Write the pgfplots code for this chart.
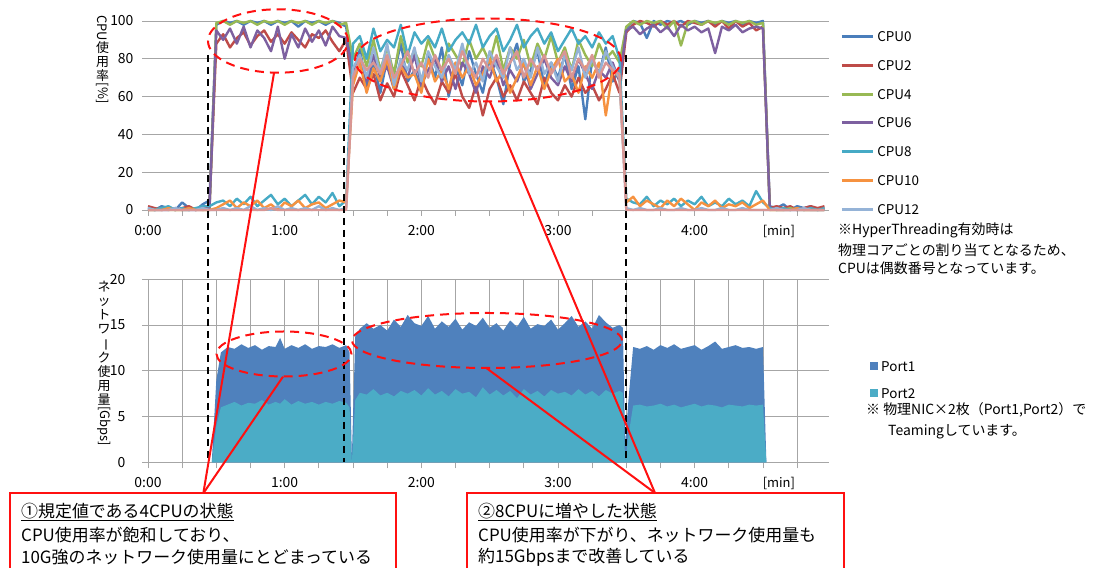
\documentclass[border=0pt]{standalone}
\usepackage{pgfplots}
\pgfplotsset{compat=1.18}
\usepackage{pgfplotstable}
\usepackage{graphicx}
\usepackage{fontspec}
\setmainfont{Noto Sans CJK JP}

\definecolor{cpuA}{HTML}{4A7EBB}
\definecolor{cpuB}{HTML}{BE4B48}
\definecolor{cpuC}{HTML}{98B954}
\definecolor{cpuD}{HTML}{7D60A0}
\definecolor{cpuE}{HTML}{46AAC5}
\definecolor{cpuF}{HTML}{F69240}
\definecolor{cpuG}{HTML}{95B3D7}
\definecolor{cpuH}{HTML}{D99694}
\definecolor{portA}{HTML}{4F81BD}
\definecolor{portB}{HTML}{4BACC6}
\definecolor{gridc}{HTML}{A6A6A6}
\definecolor{annored}{HTML}{FF1010}

\pgfplotstableread{
t c0 c2 c4 c6 c8 c10 c12 c14
0 1 2 0 0 1 0 1 0
3 0 1 0 0 0 0 0 0
6 2 0 1 0 1 0 0 0
9 1 1 0 0 2 1 0 0
12 0 0 0 1 0 0 1 0
15 4 1 0 0 1 0 0 0
18 1 2 0 0 0 1 0 0
21 0 0 1 0 1 0 0 0
24 3 1 0 0 2 0 1 0
27 5 2 0 1 2 0 0 0
30 98 88 99 95 4 1 0 0
33 100 93 100 90 5 3 1 0
36 99 86 98 96 2 5 0 0
39 100 91 100 88 6 1 1 0
42 98 94 99 97 3 4 0 0
45 100 87 100 86 7 2 2 0
48 99 92 98 95 2 5 0 0
51 100 95 100 91 5 1 1 0
54 98 89 99 84 8 3 0 1
57 100 93 100 97 3 0 2 0
60 99 88 98 80 6 4 0 0
63 100 94 100 93 2 2 1 0
66 97 90 99 86 5 5 0 0
69 100 86 100 96 8 1 1 0
72 99 93 98 89 3 3 0 0
75 100 91 100 95 7 4 2 0
78 98 95 99 87 4 1 0 0
81 100 89 100 97 9 3 1 0
84 99 84 98 92 2 5 0 0
87 97 90 99 91 5 4 1 0
90 70 62 80 72 88 66 75 70
93 85 70 88 80 92 78 82 80
96 66 64 76 68 80 62 70 74
99 78 72 90 82 96 75 86 78
102 62 58 74 70 84 68 72 72
105 80 67 86 76 90 80 88 82
108 72 60 72 64 86 64 66 70
111 88 74 92 78 98 76 80 76
114 68 66 78 70 82 70 74 84
117 74 58 84 82 94 72 86 72
120 64 70 76 66 88 62 68 78
123 82 62 90 74 92 80 84 70
126 70 56 80 80 86 68 76 82
129 86 68 74 68 96 74 70 74
132 60 62 88 76 84 64 82 80
135 76 72 82 64 90 78 74 72
138 66 60 76 78 94 70 88 84
141 84 54 90 72 88 76 72 76
144 72 66 80 62 98 66 78 70
147 62 50 86 76 86 72 68 80
150 80 64 78 70 92 80 84 74
153 70 70 92 80 96 68 76 82
156 56 60 74 66 84 74 70 72
159 78 66 86 74 90 62 86 78
162 88 58 80 68 98 70 74 84
165 68 68 90 78 86 78 80 70
168 74 62 76 64 92 66 70 80
171 84 56 88 72 96 76 86 74
174 66 70 80 80 88 64 72 82
177 78 62 92 70 94 74 78 72
180 70 58 78 66 84 80 68 78
183 82 66 86 76 90 68 82 84
186 64 60 74 68 96 72 74 70
189 76 70 90 80 88 62 86 80
192 48 62 82 72 92 76 70 74
195 80 66 76 64 86 70 80 82
198 72 58 88 74 94 78 72 70
201 86 64 80 70 88 50 84 78
204 68 72 84 78 92 74 76 74
207 74 62 78 68 80 70 70 72
210 96 94 97 95 6 4 1 0
213 100 98 100 97 4 7 0 0
216 99 100 98 93 3 2 1 0
219 91 99 100 96 7 5 0 0
222 100 97 99 98 2 3 0 0
225 98 100 100 94 5 1 1 0
228 100 98 96 97 3 5 0 0
231 99 100 100 92 6 2 0 0
234 100 97 87 98 2 6 1 0
237 98 100 99 95 5 3 0 0
240 100 99 100 97 3 0 0 0
243 99 98 98 94 7 4 1 0
246 100 100 100 96 2 2 0 0
249 98 97 99 83 4 5 0 0
252 100 100 100 97 2 1 1 0
255 99 96 98 95 6 3 0 0
258 100 100 100 98 3 2 0 0
261 98 97 99 94 5 4 1 0
264 100 99 100 96 2 1 0 0
267 99 95 98 97 10 3 0 0
270 100 97 99 96 4 5 0 0
273 2 1 0 1 1 0 0 0
276 1 2 0 0 0 0 1 0
279 3 1 0 0 1 0 0 0
282 0 2 1 0 0 0 0 0
285 2 0 0 0 1 1 0 0
288 1 1 0 0 0 0 1 0
291 2 2 0 0 1 0 0 0
294 0 1 0 0 0 0 0 0
297 1 2 0 0 1 0 0 0
}\cpudata

\pgfplotstableread{
t p1 p2
28 0 0
30 9.0 4.0
32 12.0 6.0
35 12.6 6.3
38 12.4 6.6
41 12.9 6.2
44 12.5 6.5
47 12.8 6.4
50 12.3 6.8
53 12.7 6.3
56 12.6 6.6
58 13.6 6.4
60 12.4 6.9
63 12.8 6.3
66 12.5 6.7
69 12.9 6.4
72 12.4 6.6
75 12.7 6.3
78 12.6 6.6
81 12.9 6.4
84 12.5 6.7
87 12.8 6.5
88.5 12.0 6.0
89.5 0.5 0
91 13.8 6.8
93 14.6 7.6
96 15.2 7.4
99 14.6 8.0
102 15.0 7.3
105 14.4 7.6
108 15.6 7.2
111 14.8 7.8
114 16.1 7.5
117 15.2 7.9
120 14.9 7.3
123 16.0 8.1
126 14.6 7.4
129 15.4 7.8
132 14.8 7.2
135 15.7 8.0
138 14.5 7.5
141 15.3 7.7
144 14.9 7.1
147 15.8 8.2
150 14.7 7.4
153 15.2 7.9
156 14.4 7.3
159 15.5 7.8
162 14.8 7.0
165 15.9 8.0
168 14.6 7.4
171 15.1 7.8
174 14.9 7.2
177 15.6 7.9
180 14.5 7.5
183 15.2 7.7
186 16.0 7.3
189 14.8 8.0
192 15.4 7.4
195 14.6 7.8
198 16.1 7.2
201 15.3 7.9
204 14.7 7.5
207 15.0 7.8
208.5 14.7 7.6
209.5 2.0 0
211 7.0 3.0
213 12.6 6.2
216 12.4 6.3
219 12.7 6.1
222 12.3 6.2
225 12.8 6.4
228 12.5 6.1
231 12.9 6.3
234 12.4 6.0
237 12.6 6.2
240 12.8 6.4
243 12.3 6.1
246 12.7 6.3
249 13.2 6.2
252 12.4 6.0
255 12.6 6.3
258 12.8 6.2
261 12.5 6.1
264 12.6 6.3
267 12.4 6.2
270 12.6 6.3
271.5 0 0
}\portdata

\pgfplotsset{
  common/.style={
    scale only axis, width=681bp,
    xmin=0, xmax=299, clip=false,
    xtick={0,60,120,180,240},
    xticklabels={0:00,1:00,2:00,3:00,4:00},
    minor xtick={15,30,45,75,90,105,135,150,165,195,210,225,255,270,285},
    tick align=outside,
    major tick length=6bp, minor tick length=6bp,
    every tick/.style={draw=gridc, line width=0.9bp},
    minor tick style={draw=gridc, line width=0.9bp},
    major tick style={draw=gridc, line width=0.9bp},
    axis x line*=bottom, axis y line*=left,
    y axis line style={draw=none},
    x axis line style={draw=gridc, line width=0.9bp, -},
    tick label style={font=\fontsize{14}{16}\selectfont},
    xticklabel style={yshift=-6bp},
    /pgf/number format/assume math mode=true,
    grid style={draw=gridc, line width=0.9bp},
    major grid style={draw=gridc, line width=0.9bp},
    minor grid style={draw=gridc, line width=0.9bp},
  },
  cpul/.style={line width=2.4bp, line join=round},
}

\begin{document}
\begin{tikzpicture}[x=1bp,y=1bp]
\useasboundingbox (0,0) rectangle (1099,568);

% ---------- top chart ----------
\begin{axis}[common,
  at={(148bp,358bp)}, anchor=south west, height=189bp,
  ymin=0, ymax=100, ytick={0,20,40,60,80,100},
  yticklabel style={xshift=-5bp},
  ymajorgrids,
  legend style={at={(1.0162,0.9434)}, anchor=north west, draw=none, fill=none,
    inner sep=0pt, row sep=18.7bp, font=\fontsize{13.5}{15}\selectfont,
    nodes={inner xsep=3bp, inner ysep=0pt, text height=10bp, text depth=0bp}},
  legend cell align=left,
  legend image code/.code={\draw[#1, line width=3bp] (0bp,0bp) -- (31bp,0bp);},
]
\addplot[cpul, cpuA] table[x=t,y=c0]{\cpudata};
\addplot[cpul, cpuB] table[x=t,y=c2]{\cpudata};
\addplot[cpul, cpuC] table[x=t,y=c4]{\cpudata};
\addplot[cpul, cpuD] table[x=t,y=c6]{\cpudata};
\addplot[cpul, cpuE] table[x=t,y=c8]{\cpudata};
\addplot[cpul, cpuF] table[x=t,y=c10]{\cpudata};
\addplot[cpul, cpuG] table[x=t,y=c12]{\cpudata};
\addplot[cpul, cpuH, forget plot] table[x=t,y=c14]{\cpudata};
\legend{CPU0,CPU2,CPU4,CPU6,CPU8,CPU10,CPU12}
\node[font=\fontsize{13}{15}\selectfont] at (axis cs:277,0) [yshift=-21bp] {[min]};
\end{axis}

% ---------- bottom chart ----------
\begin{axis}[common,
  at={(148bp,105.7bp)}, anchor=south west, height=183bp,
  ymin=0, ymax=20, ytick={0,5,10,15,20},
  yticklabel style={xshift=-13bp},
  ymajorgrids, xmajorgrids, xminorgrids,
  legend style={at={(1.0602,0.5536)}, anchor=north west, draw=none, fill=none,
    inner sep=0pt, row sep=17bp, font=\fontsize{13.5}{15}\selectfont,
    nodes={inner xsep=3bp, inner ysep=0pt, text height=10bp, text depth=0bp}},
  legend cell align=left,
  legend image code/.code={\fill[#1] (0bp,-4bp) rectangle (8bp,4bp);},
]
\addplot[fill=portA, draw=none] table[x=t,y=p1]{\portdata} \closedcycle;
\addplot[fill=portB, draw=none] table[x=t,y=p2]{\portdata} \closedcycle;
\legend{Port1,Port2}
\node[font=\fontsize{13}{15}\selectfont] at (axis cs:277,0) [yshift=-21bp] {[min]};
\end{axis}

% ---------- vertical axis titles ----------
\node[anchor=north, align=center, inner sep=0pt, font=\fontsize{13}{14}\selectfont]
  at (102.7,553) {\rotatebox[origin=c]{-90}{CPU}\\使\\用\\率\\\rotatebox[origin=c]{-90}{[\%]}};
\node[anchor=north, align=center, inner sep=0pt, font=\fontsize{13}{14}\selectfont]
  at (104,287) {ネ\\ッ\\ト\\ワ\\\rotatebox[origin=c]{-90}{ー}\\ク\\使\\用\\量\\\rotatebox[origin=c]{-90}{[Gbps]}};

% ---------- notes ----------
\begin{scope}[every node/.style={anchor=west, inner sep=0pt, font=\fontsize{14}{16}\selectfont}]
\node at (838,337.3) {※HyperThreading有効時は};
\node at (838,318) {物理コアごとの割り当てとなるため、};
\node at (838,300) {CPUは偶数番号となっています。};
\node at (866,158) {※ 物理NIC×2枚（Port1,Port2）で};
\node at (888,136) {Teamingしています。};
\end{scope}

% ---------- annotations ----------
\begin{scope}[black, line width=2.2bp, dash pattern=on 7bp off 5bp]
\draw (207.7,513) -- (207.7,106);
\draw (344.3,530) -- (344.3,106);
\draw (626,513) -- (626,106);
\end{scope}
\begin{scope}[annored, line width=2bp, dash pattern=on 9bp off 6bp]
\draw (278,527) ellipse [x radius=70bp, y radius=31.7bp];
\draw (488,508) ellipse [x radius=133bp, y radius=41.5bp];
\draw (284,214) ellipse [x radius=67.5bp, y radius=22.5bp];
\draw (487,227.5) ellipse [x radius=135bp, y radius=27.5bp];
\end{scope}
\begin{scope}[annored, line width=2bp]
\draw (274,495) -- (203.3,74.7);
\draw (283,191.3) -- (203.3,74.7);
\draw (490,466.3) -- (655,75);
\draw (486.7,199.7) -- (655,75);
\draw[fill=white] (10,74.7) rectangle (396,-20);
\draw[fill=white] (466.7,74.7) rectangle (844,-20);
\end{scope}
\begin{scope}[every node/.style={anchor=west, inner sep=0pt, font=\fontsize{17}{20}\selectfont}]
\node at (21,56) {\underline{①規定値である4CPUの状態}};
\node at (21,33) {CPU使用率が飽和しており、};
\node at (21,11) {10G強のネットワーク使用量にとどまっている};
\node at (478,56) {\underline{②8CPUに増やした状態}};
\node at (478,33) {CPU使用率が下がり、ネットワーク使用量も};
\node at (478,11) {約15Gbpsまで改善している};
\end{scope}
\end{tikzpicture}
\end{document}
